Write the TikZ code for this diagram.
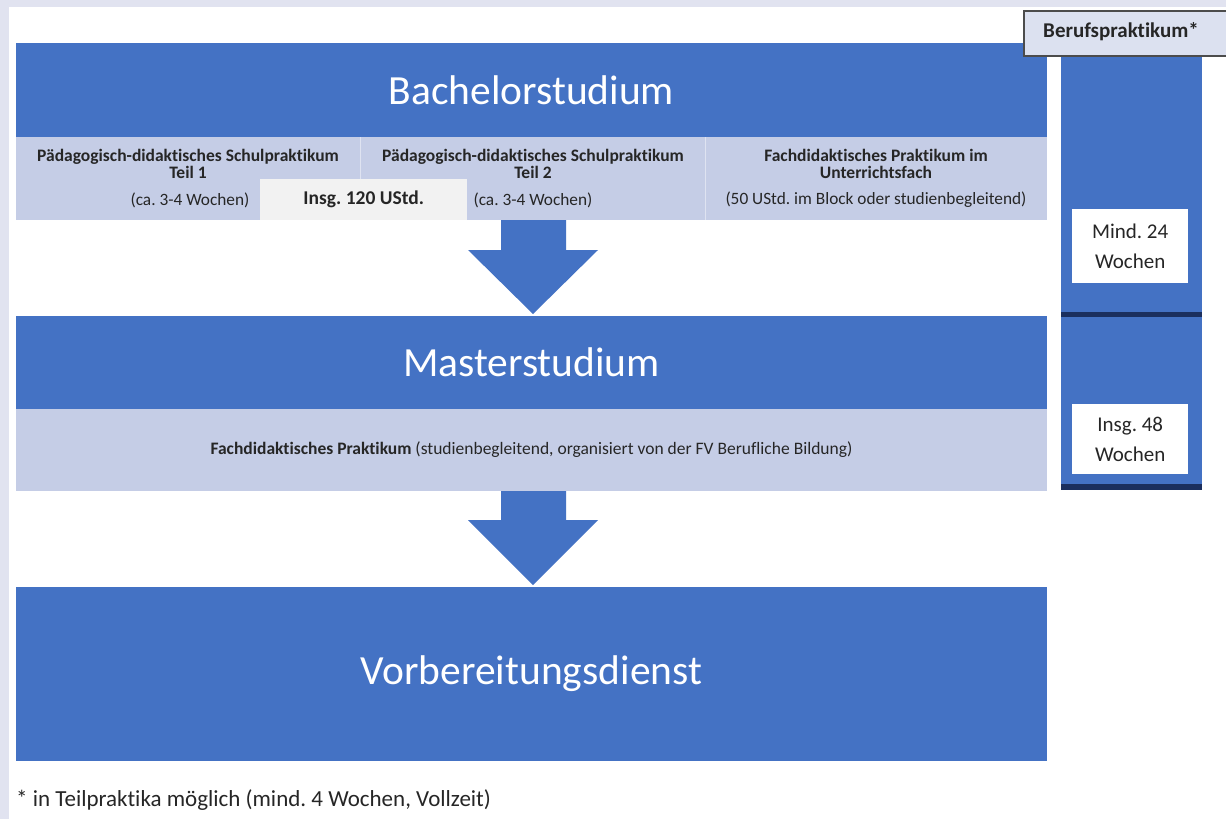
\documentclass[tikz,border=0pt]{standalone}
\usepackage{fontspec}
\setmainfont{Carlito}[Ligatures=NoCommon]
\frenchspacing
\usetikzlibrary{calc}
\definecolor{pagebg}{HTML}{E1E3F0}
\definecolor{blu}{HTML}{4472C4}
\definecolor{lite}{HTML}{C5CDE6}
\definecolor{gry}{HTML}{F2F2F2}
\definecolor{navy}{HTML}{1B2F5E}
\definecolor{labelbg}{HTML}{DCE1F0}
\definecolor{ink}{HTML}{262626}
\begin{document}
\begin{tikzpicture}[x=1pt,y=-1pt,
  panel/.style={anchor=north west, inner sep=0pt, outer sep=0pt, minimum width=1031pt},
  bluepanel/.style={panel, fill=blu, text=white, font=\fontsize{41.5}{44}\selectfont},
  litepanel/.style={panel, fill=lite},
  small/.style={text=ink, align=center, inner sep=0pt, font=\fontsize{17.3}{18}\selectfont},
  smallb/.style={small, font=\fontsize{17.5}{17}\selectfont\bfseries},
  whitebox/.style={anchor=north west, fill=white, inner sep=0pt, minimum width=116pt, align=center, text=ink, font=\fontsize{21}{30}\selectfont}
]
% page background
\fill[pagebg] (0,0) rectangle (1226,819);
\fill[white] (9,7) rectangle (1226,819);
\useasboundingbox (0,0) rectangle (1226,819);

% Bachelor
\node[bluepanel, minimum height=94pt] (bach) at (16,43) {Bachelorstudium};
\node[litepanel, minimum height=83pt] (brow) at (16,137) {};
\draw[white, opacity=0.45, line width=1pt] (360,137) -- (360,220) (705,137) -- (705,220);
\node[anchor=north west, fill=gry, inner sep=0pt, minimum width=207pt, minimum height=41pt,
      text=ink, font=\fontsize{19.5}{21}\selectfont\bfseries] (insg) at (260,179) {Insg. 120 UStd.};

\node[smallb] (t1) at (188,164) {Pädagogisch-didaktisches Schulpraktikum\\Teil 1};
\node[small] (w1) at (190,200) {(ca. 3-4 Wochen)};
\node[smallb] (t2) at (533,164) {Pädagogisch-didaktisches Schulpraktikum\\Teil 2};
\node[small] (w2) at (533,200) {(ca. 3-4 Wochen)};
\node[smallb] (t3) at (876,164) {Fachdidaktisches Praktikum im\\Unterrichtsfach};
\node[small] (w3) at (876,200) {(50 UStd. im Block oder studienbegleitend)};

% arrow to Master
\fill[blu] (501,220) -- (566,220) -- (566,250) -- (598,250) -- (533,314) -- (468,250) -- (501,250) -- cycle;

% Master
\node[bluepanel, minimum height=93pt] (mast) at (16,316) {Masterstudium};
\node[litepanel, minimum height=82pt, text=ink, font=\fontsize{17.5}{19}\selectfont] (mrow) at (16,409)
  {\textbf{Fachdidaktisches Praktikum} (studienbegleitend, organisiert von der FV Berufliche Bildung)};

% arrow to Vorbereitungsdienst
\fill[blu] (501,491) -- (566,491) -- (566,520) -- (598,520) -- (533,585) -- (468,520) -- (501,520) -- cycle;

% Vorbereitungsdienst
\node[bluepanel, minimum height=174pt] (vd) at (16,587) {Vorbereitungsdienst};

% footnote
\node[anchor=west, inner sep=0pt, text=ink, font=\fontsize{23}{26}\selectfont] (foot) at (16,800)
  {* in Teilpraktika möglich (mind. 4 Wochen, Vollzeit)};

% Berufspraktikum column
\fill[blu] (1061,55) rectangle (1202,312);
\fill[navy] (1061,312) rectangle (1202,317);
\fill[blu] (1061,317) rectangle (1202,484);
\fill[navy] (1061,484) rectangle (1202,490);
\node[whitebox, minimum height=74pt] (w24) at (1072,209) {Mind. 24\\Wochen};
\node[whitebox, minimum height=70pt] (w48) at (1072,404) {Insg. 48\\Wochen};
\node[anchor=north west, inner sep=0pt, fill=labelbg, draw=black!70, line width=1.5pt,
      minimum width=210pt, minimum height=45pt, text=ink] (bp) at (1023,10) {};
\node[text=ink, inner sep=0pt, font=\fontsize{21}{24}\selectfont\bfseries] (bptext) at (1121,32) {Berufspraktikum*};
\end{tikzpicture}
\end{document}
